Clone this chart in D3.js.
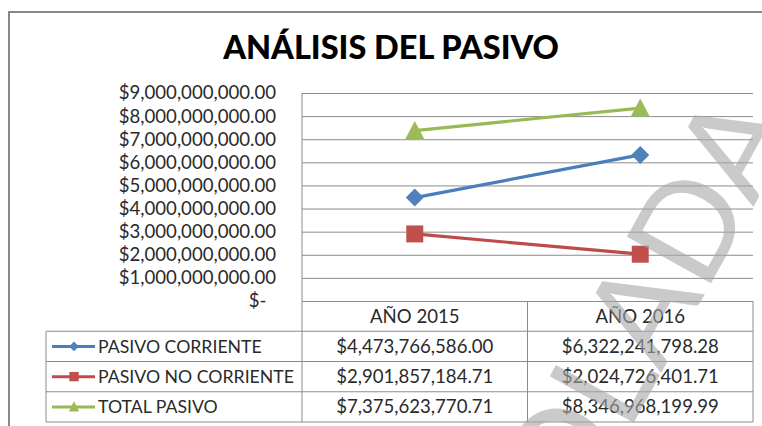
<!DOCTYPE html>
<html>
<head>
<meta charset="utf-8">
<script src="https://cdnjs.cloudflare.com/ajax/libs/d3/7.8.5/d3.min.js"></script>
<style>
  body { margin: 0; background: #fff; }
  text { font-family: Lato, "Open Sans", sans-serif; }
</style>
</head>
<body>
<div class="chart"></div>
<script>
// chart data
var categories = ["AÑO 2015", "AÑO 2016"];
var seriesNames = ["PASIVO CORRIENTE", "PASIVO NO CORRIENTE", "TOTAL PASIVO"];
var pasivoCorriente = [4473766586.00, 6322241798.28];
var pasivoNoCorriente = [2901857184.71, 2024726401.71];
var totalPasivo = [7375623770.71, 8346968199.99];
var yMax = 9000000000;

(function () {

  var width = 762, height = 426;

  // plot frame
  var plotLeft = 302, plotRight = 753, plotTop = 93, plotBottom = 301;
  var tableLeft = 46, tableBottom = 422;

  var lineColors = ["#4a7ebb", "#be4b48", "#98b954"];
  var markerColors = ["#4f81bd", "#c0504d", "#9bbb59"];
  var gridColor = "#8c8c8c";
  var bodySize = 18.6;
  var textColor = "#2a2a2a";

  var series = [pasivoCorriente, pasivoNoCorriente, totalPasivo].map(function (v, i) {
    return { name: seriesNames[i], values: v, idx: i };
  });

  var money = d3.format("$,.2f");

  var svg = d3.select(".chart")
    .append("svg")
    .attr("width", width)
    .attr("height", height);

  // outer chart border (runs off the right / bottom)
  svg.append("path")
    .attr("d", "M9," + (height + 5) + "V12H" + (width + 5))
    .attr("fill", "none")
    .attr("stroke", "#888")
    .attr("stroke-width", 2);

  // title
  svg.append("text")
    .attr("x", 391)
    .attr("y", 59)
    .attr("text-anchor", "middle")
    .attr("font-size", 32.5)
    .attr("font-weight", 900)
    .attr("fill", "#000")
    .text("ANÁLISIS DEL PASIVO");

  // scales
  var x = d3.scaleBand().domain(categories).range([plotLeft, plotRight]);
  var y = d3.scaleLinear().domain([0, yMax]).range([plotBottom, plotTop]);

  // gridlines
  var grid = svg.append("g")
    .attr("transform", "translate(" + plotLeft + ",0)")
    .call(d3.axisLeft(y).ticks(9).tickSize(-(plotRight - plotLeft)).tickFormat(""));
  grid.select(".domain").remove();
  grid.selectAll("line").attr("stroke", gridColor);

  // y axis labels
  var yAxis = svg.append("g")
    .attr("transform", "translate(" + plotLeft + ",0)")
    .call(d3.axisLeft(y).ticks(9).tickSize(0).tickPadding(26)
      .tickFormat(function (d) { return d === 0 ? "$-\u00a0\u00a0" : money(d); }));
  yAxis.select(".domain").remove();
  yAxis.selectAll("text")
    .attr("font-size", bodySize)
    .attr("font-family", "Lato, sans-serif")
    .attr("fill", textColor);

  // data table
  var rowY = d3.scaleBand().domain(["header"].concat(seriesNames)).range([plotBottom, tableBottom]);
  var table = svg.append("g").attr("class", "table");

  // horizontal table lines
  table.selectAll(".hline")
    .data(seriesNames.concat(["end"]))
    .enter()
    .append("line")
    .attr("x1", tableLeft)
    .attr("x2", plotRight)
    .attr("y1", function (d, i) { return rowY.range()[0] + rowY.step() * (i + 1); })
    .attr("y2", function (d, i) { return rowY.range()[0] + rowY.step() * (i + 1); })
    .attr("stroke", gridColor);

  // vertical lines
  table.append("line")
    .attr("x1", plotLeft).attr("x2", plotLeft)
    .attr("y1", plotTop).attr("y2", tableBottom)
    .attr("stroke", gridColor);
  table.append("line")
    .attr("x1", tableLeft).attr("x2", tableLeft)
    .attr("y1", rowY(seriesNames[0])).attr("y2", tableBottom)
    .attr("stroke", gridColor);
  table.selectAll(".vline")
    .data(categories)
    .enter()
    .append("line")
    .attr("x1", function (d) { return x(d) + x.bandwidth(); })
    .attr("x2", function (d) { return x(d) + x.bandwidth(); })
    .attr("y1", plotBottom)
    .attr("y2", tableBottom)
    .attr("stroke", gridColor);

  // header labels
  table.selectAll(".head")
    .data(categories)
    .enter()
    .append("text")
    .attr("x", function (d) { return x(d) + x.bandwidth() / 2; })
    .attr("y", rowY("header") + rowY.bandwidth() / 2)
    .attr("dy", "0.35em")
    .attr("text-anchor", "middle")
    .attr("font-size", bodySize)
    .attr("fill", textColor)
    .text(function (d) { return d; });

  // series rows
  var rows = table.selectAll(".row")
    .data(series)
    .enter()
    .append("g")
    .attr("transform", function (d) {
      return "translate(0," + (rowY(d.name) + rowY.bandwidth() / 2) + ")";
    });

  rows.append("line")
    .attr("x1", 52).attr("x2", 95)
    .attr("stroke", function (d) { return lineColors[d.idx]; })
    .attr("stroke-width", 3);

  rows.append("path")
    .attr("transform", "translate(74,0)")
    .attr("d", function (d) { return markerPath(d.idx, 0.55); })
    .attr("fill", function (d) { return markerColors[d.idx]; });

  rows.append("text")
    .attr("x", 98)
    .attr("dy", "0.35em")
    .attr("font-size", 17.7)
    .attr("fill", textColor)
    .text(function (d) { return d.name; });

  rows.selectAll(".val")
    .data(function (d) { return d.values; })
    .enter()
    .append("text")
    .attr("x", function (d, i) { return x(categories[i]) + x.bandwidth() / 2; })
    .attr("dy", "0.35em")
    .attr("text-anchor", "middle")
    .attr("font-size", bodySize)
    .attr("fill", textColor)
    .text(function (d) { return money(d); });

  // lines
  var line = d3.line()
    .x(function (d, i) { return x(categories[i]) + x.bandwidth() / 2; })
    .y(function (d) { return y(d); });

  var lines = svg.append("g").selectAll("g")
    .data(series)
    .enter()
    .append("g");

  lines.append("path")
    .attr("d", function (d) { return line(d.values); })
    .attr("fill", "none")
    .attr("stroke", function (d) { return lineColors[d.idx]; })
    .attr("stroke-width", 3.2);

  lines.selectAll(".marker")
    .data(function (d) { return d.values.map(function (v, i) { return { v: v, i: i, idx: d.idx }; }); })
    .enter()
    .append("path")
    .attr("transform", function (d) {
      return "translate(" + (x(categories[d.i]) + x.bandwidth() / 2) + "," + y(d.v) + ")";
    })
    .attr("d", function (d) { return markerPath(d.idx, 1); })
    .attr("fill", function (d) { return markerColors[d.idx]; });

  // watermark
  var wm = svg.append("g")
    .attr("transform", "translate(705,294) rotate(-61)")
    .attr("fill", "#a8a8a8")
    .attr("opacity", 0.6)
    .attr("font-size", 134);
  wm.append("text").attr("text-anchor", "end").text("COPIA NO CONTROLA");
  wm.append("text").attr("text-anchor", "start").text("DA");

  // marker shapes: diamond, square, triangle
  function markerPath(idx, k) {
    if (idx === 0) {
      var r = 9 * k;
      return "M0," + (-r) + "L" + r + ",0L0," + r + "L" + (-r) + ",0Z";
    } else if (idx === 1) {
      var s = 8.5 * k;
      return "M" + (-s) + "," + (-s) + "H" + s + "V" + s + "H" + (-s) + "Z";
    }
    var w = 9.5 * k, h = 8.5 * k;
    return "M0," + (-h - 1) + "L" + w + "," + h + "L" + (-w) + "," + h + "Z";
  }

})();
</script>
</body>
</html>
